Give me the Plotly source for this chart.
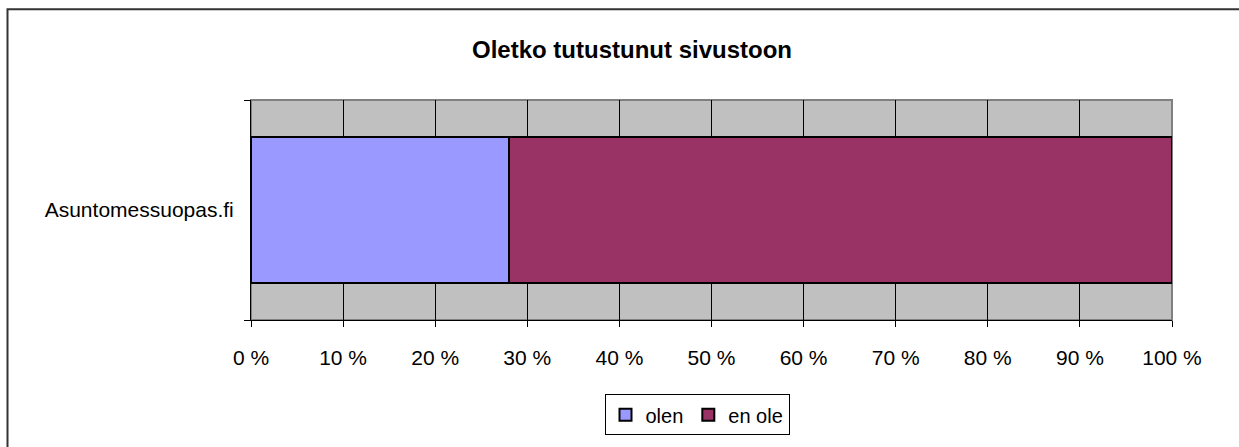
import plotly.graph_objects as go

categories = ["Asuntomessuopas.fi"]
series_names = ["olen", "en ole"]
olen_values = [28]
en_ole_values = [72]
series_colors = ["#9999FF", "#993366"]
tick_values = [0, 10, 20, 30, 40, 50, 60, 70, 80, 90, 100]
tick_labels = [f"{v} %" for v in tick_values]

W, H = 1239, 447
L, R, T, B = 251, 67, 100, 125
pw, ph = W - L - R, H - T - B

def px_x(p):
    return (p - L) / pw

def px_y(p):
    return (H - B - p) / ph

fig = go.Figure()
for name, vals, col in zip(series_names, [olen_values, en_ole_values], series_colors):
    fig.add_trace(go.Bar(
        y=categories, x=vals, name=name, orientation="h",
        marker=dict(color=col, line=dict(color="black", width=2)),
    ))

font = "Liberation Sans, Arial, sans-serif"
fig.update_layout(
    width=W, height=H,
    margin=dict(l=L, r=R, t=T, b=B),
    barmode="stack",
    bargap=0.335,
    paper_bgcolor="white",
    plot_bgcolor="#C0C0C0",
    font=dict(family=font, size=21, color="black"),
    title=dict(text="<b>Oletko tutustunut sivustoon</b>", x=632 / W, xref="container",
               xanchor="center", y=1 - 50 / H, yref="container", yanchor="middle",
               font=dict(size=24, family=font, color="black")),
    showlegend=True,
    legend=dict(orientation="h", x=px_x(697), xanchor="center", y=px_y(397), yanchor="top",
                bordercolor="black", borderwidth=1, bgcolor="white",
                font=dict(size=20, family=font), traceorder="normal",
                itemwidth=30, tracegroupgap=0),
    xaxis=dict(range=[0, 100], tickvals=tick_values, ticktext=tick_labels,
               showgrid=True, gridcolor="black", gridwidth=1,
               showline=True, linecolor="black", linewidth=1,
               ticks="outside", ticklen=6, tickcolor="black",
               ticklabelstandoff=13, zeroline=False, fixedrange=True),
    yaxis=dict(type="category", range=[-0.5, 0.5], showgrid=False,
               showline=True, linecolor="black", linewidth=1,
               ticks="outside", ticklen=6, tickcolor="black", tickson="boundaries",
               ticklabelstandoff=12, fixedrange=True),
    shapes=[
        dict(type="rect", xref="paper", yref="paper", x0=0, x1=1, y0=0, y1=1,
             line=dict(color="#808080", width=2), layer="below"),
        dict(type="rect", xref="paper", yref="paper",
             x0=px_x(7.5), x1=px_x(1250), y0=px_y(460), y1=px_y(8.5),
             line=dict(color="#333333", width=2), fillcolor="rgba(0,0,0,0)"),
    ],
)

fig.write_html(
    "out.html",
    config={"displayModeBar": False},
    post_script="document.body.style.margin='0';document.body.style.padding='0';document.body.style.overflow='hidden';",
)
